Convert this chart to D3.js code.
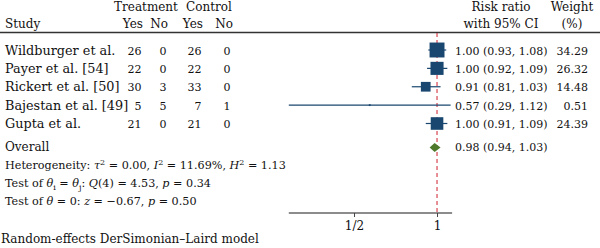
<!DOCTYPE html>
<html>
<head>
<meta charset="utf-8">
<script src="https://cdn.jsdelivr.net/npm/d3@7"></script>
<style>
  body { margin: 0; background: #fff; }
  svg { display: block; font-family: "DejaVu Serif", serif; }
</style>
</head>
<body>
<div id="forest"></div>
<script>
// data
const studies  = ["Wildburger et al.", "Payer et al. [54]", "Rickert et al. [50]", "Bajestan et al. [49]", "Gupta et al."];
const treatYes = [26, 22, 30, 5, 21];
const treatNo  = [0, 0, 3, 5, 0];
const ctrlYes  = [26, 22, 33, 7, 21];
const ctrlNo   = [0, 0, 0, 1, 0];
const rr       = [1.00, 1.00, 0.91, 0.57, 1.00];
const rrLo     = [0.93, 0.92, 0.81, 0.29, 0.91];
const rrHi     = [1.08, 1.09, 1.03, 1.12, 1.09];
const weights  = [34.29, 26.32, 14.48, 0.51, 24.39];
const overall  = [0.98, 0.94, 1.03];   // estimate, lower, upper
const tickValues = [0.5, 1];
const tickLabels = ["1/2", "1"];

const W = 600, H = 248;
const navy = "#1a476f", green = "#4f782b", red = "#d0202e";
const fsName = 12.8, fs = 12, fsNum = 11, fsSmall = 11.2;

const svg = d3.select("#forest").append("svg")
  .attr("width", W).attr("height", H);

// x: log scale for the risk ratio
const x = d3.scaleLog().domain([0.29, 1.12]).range([288.8, 450.6]);
// y: row baselines
const y = d3.scaleLinear().domain([0, studies.length - 1]).range([54.5, 128]);
const yOverall = 151;
const axisY = 213;

const rows = studies.map((s, i) => ({
  study: s, ty: treatYes[i], tn: treatNo[i], cy: ctrlYes[i], cn: ctrlNo[i],
  rr: rr[i], lo: rrLo[i], hi: rrHi[i], w: weights[i], i: i
}));

// header
const head = svg.append("g").style("font-size", fs + "px").attr("fill", "#111");
head.append("text").attr("x", 146).attr("y", 11).attr("text-anchor", "middle").text("Treatment");
head.append("text").attr("x", 209).attr("y", 11).attr("text-anchor", "middle").text("Control");
head.append("text").attr("x", 501).attr("y", 11).attr("text-anchor", "middle").text("Risk ratio");
head.append("text").attr("x", 572).attr("y", 11).attr("text-anchor", "middle").text("Weight");
head.append("text").attr("x", 5).attr("y", 27.5).text("Study");
[["Yes", 143], ["No", 168], ["Yes", 203], ["No", 233]].forEach(d => {
  head.append("text").attr("x", d[1]).attr("y", 27.5).attr("text-anchor", "end").text(d[0]);
});
head.append("text").attr("x", 501).attr("y", 27.5).attr("text-anchor", "middle").text("with 95% CI");
head.append("text").attr("x", 572).attr("y", 27.5).attr("text-anchor", "middle").text("(%)");

svg.append("line")
  .attr("x1", 0).attr("x2", W).attr("y1", 32.5).attr("y2", 32.5)
  .attr("stroke", "#333").attr("stroke-width", 1.3);

// reference line at RR = 1
svg.append("line")
  .attr("x1", x(1)).attr("x2", x(1)).attr("y1", 33).attr("y2", axisY)
  .attr("stroke", red).attr("stroke-width", 1).attr("stroke-dasharray", "4,3");

// table columns
const tbl = svg.append("g").attr("fill", "#111");
const rowG = tbl.selectAll("g.row").data(rows).join("g").attr("class", "row")
  .style("font-size", fsNum + "px");
rowG.append("text").attr("x", 5).attr("y", d => y(d.i)).style("font-size", fsName + "px").text(d => d.study);
rowG.append("text").attr("x", 141.5).attr("y", d => y(d.i)).attr("text-anchor", "end").text(d => d.ty);
rowG.append("text").attr("x", 166.5).attr("y", d => y(d.i)).attr("text-anchor", "end").text(d => d.tn);
rowG.append("text").attr("x", 201.5).attr("y", d => y(d.i)).attr("text-anchor", "end").text(d => d.cy);
rowG.append("text").attr("x", 230.5).attr("y", d => y(d.i)).attr("text-anchor", "end").text(d => d.cn);
rowG.append("text").attr("x", 455).attr("y", d => y(d.i))
  .text(d => `${d.rr.toFixed(2)} (${d.lo.toFixed(2)}, ${d.hi.toFixed(2)})`);
rowG.append("text").attr("x", 588).attr("y", d => y(d.i)).attr("text-anchor", "end")
  .text(d => d.w.toFixed(2));

// CIs and weighted squares
const marks = svg.append("g");
marks.selectAll("line.ci").data(rows).join("line").attr("class", "ci")
  .attr("x1", d => x(d.lo)).attr("x2", d => x(d.hi))
  .attr("y1", d => y(d.i) - 4.5).attr("y2", d => y(d.i) - 4.5)
  .attr("stroke", navy).attr("stroke-width", 1.2);
const side = d => 2.55 * Math.sqrt(d.w);
marks.selectAll("rect.box").data(rows).join("rect").attr("class", "box")
  .attr("x", d => x(d.rr) - side(d) / 2)
  .attr("y", d => y(d.i) - 4.5 - side(d) / 2)
  .attr("width", side).attr("height", side)
  .attr("fill", navy);

// overall
svg.append("text").attr("x", 5).attr("y", yOverall).style("font-size", fs + "px").attr("fill", "#111").text("Overall");
const oy = yOverall - 3.5;
svg.append("path")
  .attr("d", `M${x(overall[1])},${oy} L${x(overall[0])},${oy - 4.5} L${x(overall[2])},${oy} L${x(overall[0])},${oy + 4.5} Z`)
  .attr("fill", green);
svg.append("text").attr("x", 455).attr("y", yOverall).style("font-size", fsNum + "px").attr("fill", "#111")
  .text(`${overall[0].toFixed(2)} (${overall[1].toFixed(2)}, ${overall[2].toFixed(2)})`);

// heterogeneity / test lines with math italic and superscripts
function richLine(yy, parts) {
  const t = svg.append("text").attr("x", 5).attr("y", yy).style("font-size", fsSmall + "px").attr("fill", "#111");
  parts.forEach(p => {
    const s = t.append("tspan").text(p.t);
    if (p.i) s.style("font-style", "italic");
    if (p.sup) s.attr("dy", -4).style("font-size", "8px");
    if (p.sub) s.attr("dy", 2.5).style("font-size", "8px");
    if (p.back) s.attr("dy", p.back);
  });
}
richLine(169, [
  {t: "Heterogeneity: "}, {t: "τ", i: 1}, {t: "2", sup: 1}, {t: " = 0.00, ", back: 4},
  {t: "I", i: 1}, {t: "2", sup: 1}, {t: " = 11.69%, ", back: 4},
  {t: "H", i: 1}, {t: "2", sup: 1}, {t: " = 1.13", back: 4}
]);
richLine(187, [
  {t: "Test of "}, {t: "θ", i: 1}, {t: "i", sub: 1}, {t: " = ", back: -2.5},
  {t: "θ", i: 1}, {t: "j", sub: 1}, {t: ": ", back: -2.5},
  {t: "Q", i: 1}, {t: "(4) = 4.53, "}, {t: "p", i: 1}, {t: " = 0.34"}
]);
richLine(205, [
  {t: "Test of "}, {t: "θ", i: 1}, {t: " = 0: "}, {t: "z", i: 1}, {t: " = −0.67, "},
  {t: "p", i: 1}, {t: " = 0.50"}
]);

// axis
const axis = d3.axisBottom(x).tickValues(tickValues)
  .tickFormat((d, i) => tickLabels[i]).tickSize(4).tickSizeOuter(0);
const ax = svg.append("g").attr("transform", `translate(0,${axisY})`).call(axis);
ax.select(".domain").attr("stroke", "#666").attr("stroke-width", 1.5)
  .attr("d", `M${x.range()[0]},0H${x.range()[1] + 1.5}`);
ax.selectAll(".tick line").attr("stroke", "#444");
ax.selectAll(".tick text").attr("y", 8).attr("dy", "0.71em")
  .style("font-size", fs + "px").style("font-family", "DejaVu Serif, serif").attr("fill", "#111");

// footnote
svg.append("text").attr("x", 1).attr("y", 243).style("font-size", fs + "px").attr("fill", "#111")
  .text("Random-effects DerSimonian–Laird model");
</script>
</body>
</html>
